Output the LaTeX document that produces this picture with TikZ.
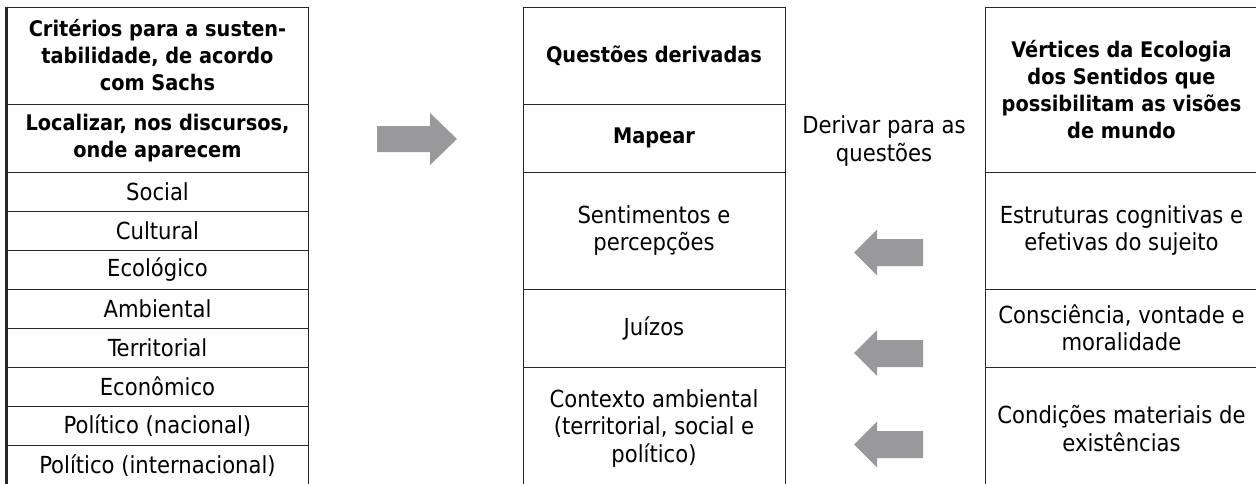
\documentclass[tikz,border=0pt]{standalone}
\usepackage{fontspec}
\setmainfont{DejaVu Sans Condensed}
\definecolor{arrowgray}{RGB}{153,153,155}
\definecolor{linegray}{RGB}{40,40,40}
\tikzset{
  cell/.style={draw=linegray, line width=1pt, align=center, inner sep=0pt,
    font=\fontsize{23.5}{27.5}\selectfont},
  bcell/.style={cell, font=\fontsize{21.5}{27}\selectfont\bfseries},
  blockarrow/.style={fill=arrowgray, draw=none},
  plain/.style={align=center, inner sep=0pt, font=\fontsize{23.5}{27.5}\selectfont}
}
\begin{document}
\begin{tikzpicture}[x=1pt,y=-1pt]
\useasboundingbox (0,0) rectangle (1256,483);
\fill[white] (0,0) rectangle (1256,483);
% left column
\node[bcell, minimum width=301pt, minimum height=97pt] (l1) at (157.5,55.5) {Critérios para a susten-\\tabilidade, de acordo\\com Sachs};
\node[bcell, minimum width=301pt, minimum height=68pt] (l2) at (157.5,138) {Localizar, nos discursos,\\onde aparecem};
\node[cell, minimum width=301pt, minimum height=39pt] (l3) at (157.5,191.5) {Social};
\node[cell, minimum width=301pt, minimum height=39pt] (l4) at (157.5,230.5) {Cultural};
\node[cell, minimum width=301pt, minimum height=39pt] (l5) at (157.5,269.5) {Ecológico};
\node[cell, minimum width=301pt, minimum height=39pt] (l6) at (157.5,308.5) {Ambiental};
\node[cell, minimum width=301pt, minimum height=39pt] (l7) at (157.5,347.5) {Territorial};
\node[cell, minimum width=301pt, minimum height=39pt] (l8) at (157.5,386.5) {Econômico};
\node[cell, minimum width=301pt, minimum height=39pt] (l9) at (157.5,425.5) {Político (nacional)};
\node[cell, minimum width=301pt, minimum height=41pt] (l10) at (157.5,465.5) {Político (internacional)};
\draw[linegray, line width=2.5pt] (l1.north west) -- (l10.south west);
% right arrow
\fill[blockarrow] (377,126) -- (430,126) -- (430,113) -- (457,139) -- (430,165) -- (430,152) -- (377,152) -- cycle;
% middle column
\node[bcell, minimum width=262pt, minimum height=97pt] (m1) at (654,55.5) {Questões derivadas};
\node[bcell, minimum width=262pt, minimum height=68pt] (m2) at (654,138) {Mapear};
\node[cell, minimum width=262pt, minimum height=117pt] (m3) at (654,230.5) {Sentimentos e\\percepções};
\node[cell, minimum width=262pt, minimum height=78pt] (m4) at (654,328) {Juízos};
\node[cell, minimum width=262pt, minimum height=123pt] (m5) at (654,428.5) {Contexto ambiental\\(territorial, social e\\político)};
% label
\node[plain] (lbl) at (884,141) {Derivar para as\\questões};
% left arrows
\fill[blockarrow] (923,239) -- (877,239) -- (877,229.5) -- (854,252.5) -- (877,275.5) -- (877,266) -- (923,266) -- cycle;
\fill[blockarrow] (923,340) -- (877,340) -- (877,330) -- (854,353) -- (877,376) -- (877,367) -- (923,367) -- cycle;
\fill[blockarrow] (923,431) -- (877,431) -- (877,421.5) -- (854,444.5) -- (877,467.5) -- (877,458) -- (923,458) -- cycle;
% right column
\node[bcell, minimum width=273pt, minimum height=165pt] (r1) at (1121.5,89.5) {Vértices da Ecologia\\dos Sentidos que\\possibilitam as visões\\de mundo};
\node[cell, minimum width=273pt, minimum height=117pt] (r2) at (1121.5,230.5) {Estruturas cognitivas e\\efetivas do sujeito};
\node[cell, minimum width=273pt, minimum height=78pt] (r3) at (1121.5,328) {Consciência, vontade e\\moralidade};
\node[cell, minimum width=273pt, minimum height=123pt] (r4) at (1121.5,428.5) {Condições materiais de\\existências};
\end{tikzpicture}
\end{document}
